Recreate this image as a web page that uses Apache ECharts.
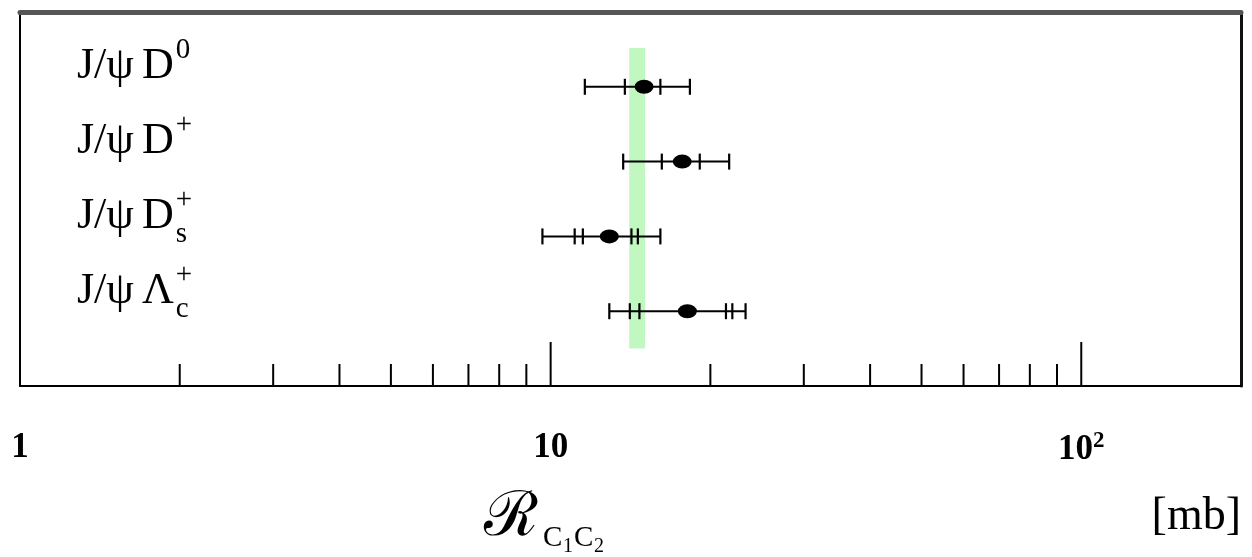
<!DOCTYPE html>
<html>
<head>
<meta charset="utf-8">
<script src="https://cdn.jsdelivr.net/npm/echarts@6/dist/echarts.min.js"></script>
<style>
  html, body { margin: 0; padding: 0; background: #fff; }
  #chart { width: 1252px; height: 557px; }
</style>
</head>
<body>
<div id="chart"></div>
<script>
// rows from the top: J/psi + charm hadron
const rows = [1, 2, 3, 4]
const rowNames = ['D', 'D', 'D', 'Λ']
const rowSup = ['0', '+', '+', '+']
const rowSub = ['', '', 's', 'c']
const central = [15.0, 17.7, 12.9, 18.1]
// whisker positions [mb], inner to outer
const lowTicks = [[13.8, 11.6], [16.2, 13.7], [11.5, 11.1, 9.65], [14.7, 14.1, 12.9]]
const highTicks = [[16.1, 18.3], [19.1, 21.7], [14.2, 14.6, 16.1], [21.4, 22.0, 23.3]]
// green band (average)
const bandX = [14.06, 15.07]
const bandY = [0.48, 4.5]
const majorTicks = [10, 100]
const minorTicks = [2, 3, 4, 5, 6, 7, 8, 9, 20, 30, 40, 50, 60, 70, 80, 90]
const tickLabels = { 1: '1', 10: '10', 100: '10{sup|2}' }

const SERIF = '"Liberation Serif", "DejaVu Serif", serif'
const chart = echarts.init(document.getElementById('chart'))

const measure = document.createElement('canvas').getContext('2d')
function textWidth(text, font) {
  measure.font = font
  return measure.measureText(text).width
}

chart.setOption({
  backgroundColor: '#fff',
  animation: false,
  grid: { left: 20, right: 11, top: 12, bottom: 171 },
  xAxis: [{
    type: 'log',
    logBase: 10,
    min: 1,
    max: 200,
    axisLine: { onZero: false, lineStyle: { color: '#000', width: 2 } },
    axisTick: { show: false },
    splitLine: { show: false },
    axisLabel: {
      margin: 44,
      color: '#000',
      fontFamily: SERIF,
      fontWeight: 'bold',
      fontSize: 35,
      formatter: function (v) {
        const k = Math.round(v)
        return Math.abs(v - k) < 1e-6 && tickLabels[k] ? tickLabels[k] : ''
      },
      rich: {
        sup: { fontSize: 23, fontFamily: SERIF, fontWeight: 'bold', color: '#000', verticalAlign: 'top', padding: [0, 0, 16, 0] }
      }
    }
  }, {
    type: 'log',
    logBase: 10,
    min: 1,
    max: 200,
    position: 'top',
    axisLine: { onZero: false, lineStyle: { color: '#555', width: 5 } },
    axisTick: { show: false },
    axisLabel: { show: false },
    splitLine: { show: false }
  }],
  yAxis: [{
    type: 'value',
    min: 0,
    max: 5,
    inverse: true,
    axisLine: { show: true, onZero: false, lineStyle: { color: '#000', width: 2 } },
    axisTick: { show: false },
    axisLabel: { show: false },
    splitLine: { show: false }
  }, {
    type: 'value',
    min: 0,
    max: 5,
    inverse: true,
    position: 'right',
    axisLine: { show: true, onZero: false, lineStyle: { color: '#111', width: 3 } },
    axisTick: { show: false },
    axisLabel: { show: false },
    splitLine: { show: false }
  }],
  graphic: [
    { type: 'text', x: 484, y: 519, style: { text: 'ℛ', font: '62px ' + SERIF, fill: '#000', verticalAlign: 'middle' } },
    { type: 'text', x: 543, y: 538, style: { text: 'C', font: '29px ' + SERIF, fill: '#000', verticalAlign: 'middle' } },
    { type: 'text', x: 563, y: 547, style: { text: '1', font: '20px ' + SERIF, fill: '#000', verticalAlign: 'middle' } },
    { type: 'text', x: 574, y: 538, style: { text: 'C', font: '29px ' + SERIF, fill: '#000', verticalAlign: 'middle' } },
    { type: 'text', x: 594, y: 547, style: { text: '2', font: '20px ' + SERIF, fill: '#000', verticalAlign: 'middle' } },
    { type: 'text', x: 1241, y: 517, style: { text: '[mb]', font: '46px ' + SERIF, fill: '#000', align: 'right', verticalAlign: 'middle' } }
  ],
  series: [{
    name: 'band',
    type: 'custom',
    z: 1,
    data: [[bandX[0], bandY[0], bandX[1], bandY[1]]],
    renderItem: function (params, api) {
      const a = api.coord([api.value(0), api.value(1)])
      const b = api.coord([api.value(2), api.value(3)])
      return {
        type: 'rect',
        shape: { x: a[0], y: a[1], width: b[0] - a[0], height: b[1] - a[1] },
        style: { fill: '#c1f8c1' }
      }
    }
  }, {
    name: 'ticks',
    type: 'custom',
    z: 3,
    data: minorTicks.concat(majorTicks).map(v => [v, 5]),
    renderItem: function (params, api) {
      const v = api.value(0)
      const p = api.coord([v, api.value(1)])
      const len = majorTicks.indexOf(v) >= 0 ? 44 : 22
      return {
        type: 'line',
        shape: { x1: p[0], y1: p[1], x2: p[0], y2: p[1] - len },
        style: { stroke: '#000', lineWidth: 2 }
      }
    }
  }, {
    name: 'errors',
    type: 'custom',
    z: 4,
    data: rows.map((r, i) => [central[i], r, i]),
    renderItem: function (params, api) {
      const i = api.value(2)
      const r = api.value(1)
      const lo = Math.min.apply(null, lowTicks[i])
      const hi = Math.max.apply(null, highTicks[i])
      const a = api.coord([lo, r])
      const b = api.coord([hi, r])
      const children = [{
        type: 'line',
        shape: { x1: a[0], y1: a[1], x2: b[0], y2: b[1] },
        style: { stroke: '#000', lineWidth: 2 }
      }]
      lowTicks[i].concat(highTicks[i]).forEach(function (t) {
        const p = api.coord([t, r])
        children.push({
          type: 'line',
          shape: { x1: p[0], y1: p[1] - 8, x2: p[0], y2: p[1] + 8 },
          style: { stroke: '#000', lineWidth: 2.2 }
        })
      })
      return { type: 'group', children: children }
    }
  }, {
    name: 'points',
    type: 'scatter',
    z: 5,
    symbol: 'circle',
    symbolSize: [19, 14],
    itemStyle: { color: '#000', opacity: 1 },
    data: rows.map((r, i) => [central[i], r])
  }, {
    name: 'labels',
    type: 'custom',
    z: 6,
    data: rows.map((r, i) => [1, r, i]),
    renderItem: function (params, api) {
      const i = api.value(2)
      const y = api.coord([1, api.value(1)])[1] - 20
      const x = params.coordSys.x + 57
      const mainFont = '44px ' + SERIF
      const smallFont = '29px ' + SERIF
      const jpsi = 'J/ψ'
      const x2 = x + textWidth(jpsi, mainFont) + 8
      const x3 = x2 + textWidth(rowNames[i], mainFont) + 2
      const children = [{
        type: 'text', x: x, y: y,
        style: { text: jpsi, font: mainFont, fill: '#000', align: 'left', verticalAlign: 'middle' }
      }, {
        type: 'text', x: x2, y: y,
        style: { text: rowNames[i], font: mainFont, fill: '#000', align: 'left', verticalAlign: 'middle' }
      }, {
        type: 'text', x: x3, y: y - 16,
        style: { text: rowSup[i], font: smallFont, fill: '#000', align: 'left', verticalAlign: 'middle' }
      }]
      if (rowSub[i]) {
        children.push({
          type: 'text', x: x3, y: y + 18,
          style: { text: rowSub[i], font: smallFont, fill: '#000', align: 'left', verticalAlign: 'middle' }
        })
      }
      return { type: 'group', children: children }
    }
  }]
})
</script>
</body>
</html>
